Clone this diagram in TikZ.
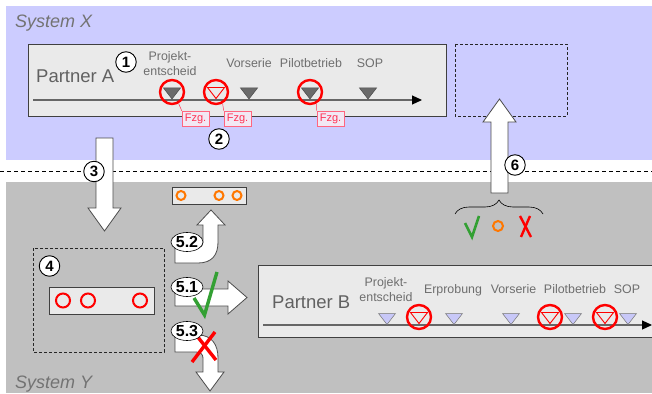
\documentclass[tikz,border=0pt]{standalone}
\usepackage{fontspec}
\setmainfont{Liberation Sans}
\usetikzlibrary{shapes.geometric,decorations.pathreplacing,arrows.meta}

\definecolor{sysx}{HTML}{CCCCFF}
\definecolor{sysy}{HTML}{C0C0C0}
\definecolor{boxfill}{HTML}{EAEAEA}
\definecolor{labelgray}{HTML}{6E6E6E}
\definecolor{markgray}{HTML}{6A6A6A}
\definecolor{markblue}{HTML}{C8C8F8}
\definecolor{fzgred}{HTML}{FF3355}
\definecolor{fzgfill}{HTML}{F2E8F4}
\definecolor{okgreen}{HTML}{33A033}
\definecolor{altorange}{HTML}{FF7700}

\tikzset{
  partner/.style={draw=black!75, fill=boxfill, line width=0.8pt},
  dashbox/.style={draw=black!85, line width=0.6pt, dash pattern=on 3pt off 2pt},
  num/.style={circle, draw=black, fill=white, line width=0.9pt, inner sep=0pt,
    minimum size=20.5pt, font=\fontsize{15}{15}\bfseries\selectfont},
  subnum/.style={ellipse, draw=black, fill=white, line width=0.6pt, inner sep=0pt,
    minimum width=32pt, minimum height=19pt, font=\fontsize{16}{16}\bfseries\selectfont},
  ms/.style={font=\fontsize{12.4}{15.5}\selectfont, text=labelgray, inner sep=0pt},
  fzg/.style={draw=fzgred!75, fill=fzgfill, line width=0.6pt, text=fzgred,
    font=\fontsize{11}{11}\selectfont, inner sep=0pt, minimum width=27pt, minimum height=15pt},
  ring/.style={circle, draw=red, line width=2.4pt, minimum size=24pt, inner sep=0pt},
  dot/.style={circle, line width=2pt, inner sep=0pt},
  blockarrow/.style={draw=black!70, fill=white, line width=0.8pt, line join=miter},
  timeline/.style={draw=black!60, line width=1.2pt,
    -{Triangle[length=10pt, width=9pt, color=black, fill=black]}},
  sysname/.style={font=\fontsize{18}{18}\itshape\selectfont, text=black!55,
    anchor=base west, inner sep=0pt},
  pname/.style={font=\fontsize{18.5}{18.5}\selectfont, text=black!62,
    anchor=base west, inner sep=0pt},
  mstone/.pic={\path[pic actions] (-8.5,-5.5) -- (8.5,-5.5) -- (0,5.5) -- cycle;},
  darkmark/.style={fill=markgray, draw=black!70, line width=0.5pt},
  bluemark/.style={fill=markblue, draw=black!55, line width=0.5pt},
  redmark/.style={fill=boxfill, draw=red, line width=0.9pt},
}

\begin{document}
\begin{tikzpicture}[x=1pt, y=-1pt]
\useasboundingbox (0,0) rectangle (652,393);
\fill[white] (0,0) rectangle (652,393);

% the two system areas and the border between them
\fill[sysx] (6,6) rectangle (652,160);
\fill[sysy] (6,182) rectangle (652,393);
\coordinate (sepL) at (0,171);
\coordinate (sepR) at (652,171);
\draw[black, line width=0.6pt, dash pattern=on 4pt off 3pt] (sepL) -- (sepR);

\node[sysname] (sysX) at (15,28) {System X};
\node[sysname] (sysY) at (15,388.5) {System Y};

% ---------------- Partner A ----------------
\draw[partner] (28,44) rectangle (446,116);
\node[pname] (pA) at (36,83) {Partner A};
\coordinate (ta0) at (33,100);
\coordinate (ta1) at (422,100);
\draw[timeline] (ta0) -- (ta1);

\node[ms, anchor=south, align=center] (la1) at (170,76) {Projekt-\\entscheid};
\node[ms, anchor=base] (la2) at (249,68) {Vorserie};
\node[ms, anchor=base] (la3) at (311,68) {Pilotbetrieb};
\node[ms, anchor=base] (la4) at (370,68) {SOP};

\pic[darkmark] at (172,93.5) {mstone};
\pic[redmark, fill=none] at (216,93) {mstone};
\pic[darkmark] at (249,93.5) {mstone};
\pic[darkmark] at (310,93.5) {mstone};
\pic[darkmark] at (368,93.5) {mstone};

\node[ring] (ra1) at (172,92) {};
\node[ring] (ra2) at (216,92) {};
\node[ring] (ra3) at (310,92) {};

\node[fzg] (fa1) at (195.5,118.5) {Fzg.};
\node[fzg] (fa2) at (237.5,118.5) {Fzg.};
\node[fzg] (fa3) at (330.5,118.5) {Fzg.};
\draw[fzgred, line width=0.5pt] (ra1.-60) -- (fa1.north west);
\draw[fzgred, line width=0.5pt] (ra2.-60) -- (fa2.north west);
\draw[fzgred, line width=0.5pt] (ra3.-60) -- (fa3.north west);

\node[num] (n1) at (126,62) {1};
\node[num] (n2) at (219,139) {2};

% target slot in system X
\draw[dashbox] (455,44) rectangle (567,116);

% ---------------- transfer arrows ----------------
\draw[blockarrow] (96,138) -- (113,138) -- (113,208) -- (121,208) -- (104.5,231)
  -- (88,208) -- (96,208) -- cycle;
\node[num] (n3) at (94,171.5) {3};

\draw[blockarrow] (491,193) -- (508,193) -- (508,122) -- (516,122) -- (499.5,99)
  -- (483,122) -- (491,122) -- cycle;
\node[num] (n6) at (515,165) {6};

% feedback summary below arrow 6
\coordinate (brL) at (455,214);
\coordinate (brR) at (543,214);
\draw[black, line width=0.6pt, decorate, decoration={brace, amplitude=14pt}] (brL) -- (brR);
\draw[okgreen, line width=2.6pt] (465,223) -- (472,237) -- (479,216);
\node[dot, draw=altorange, minimum size=10pt] (fbo) at (498,226) {};
\draw[red, line width=2.4pt] (520,216) -- (531,237);
\draw[red, line width=2.4pt] (530,216) -- (521,237);

% ---------------- system Y: evaluation ----------------
\draw[dashbox] (33,248) rectangle (164,352);
\node[num] (n4) at (49.5,266) {4};
\draw[partner] (49,287) rectangle (154,314);
\node[dot, draw=red, minimum size=14pt] (c41) at (63,300.5) {};
\node[dot, draw=red, minimum size=14pt] (c42) at (88,300.5) {};
\node[dot, draw=red, minimum size=14pt] (c43) at (140,300.5) {};

\draw[partner] (172,187) rectangle (246,204);
\node[dot, draw=altorange, minimum size=9pt] (c51) at (181,195.5) {};
\node[dot, draw=altorange, minimum size=9pt] (c52) at (219,195.5) {};
\node[dot, draw=altorange, minimum size=9pt] (c53) at (237,195.5) {};

% bent arrow 5.2 (up), straight arrow 5.1 (right), bent arrow 5.3 (down)
\draw[blockarrow] (175,263) -- (198,263) .. controls (212,263) and (218,255) .. (218,242)
  -- (218,225) -- (225,225) -- (211,210) -- (197,225) -- (203,225) -- (203,242)
  .. controls (203,246) and (200,248) .. (196,248) -- (175,248) -- cycle;
\draw[blockarrow] (175,289) -- (228,289) -- (228,281) -- (247,297.5) -- (228,314)
  -- (228,306) -- (175,306) -- cycle;
\draw[blockarrow] (175,335) -- (198,335) .. controls (212,335) and (218,345) .. (218,358)
  -- (218,372) -- (224,372) -- (210,391) -- (196,372) -- (203,372) -- (203,358)
  .. controls (203,354) and (200,352) .. (196,352) -- (175,352) -- cycle;

\draw[okgreen, line width=3.4pt] (194,298) -- (204.5,315) -- (217,272);
\draw[red, line width=3.4pt] (192,362) -- (215,332);
\draw[red, line width=3.4pt] (197,336) -- (216,360);

\node[subnum] (n52) at (187,242) {5.2};
\node[subnum] (n51) at (187,287) {5.1};
\node[subnum] (n53) at (187,331) {5.3};

% ---------------- Partner B ----------------
\draw[partner] (258,265) rectangle (660,337);
\node[pname] (pB) at (272,308) {Partner B};
\coordinate (tb0) at (263,325);
\coordinate (tb1) at (652,325);
\draw[timeline] (tb0) -- (tb1);

\node[ms, anchor=south, align=center] (lb1) at (386,302) {Projekt-\\entscheid};
\node[ms, anchor=base] (lb2) at (453,293) {Erprobung};
\node[ms, anchor=base] (lb3) at (513.5,293) {Vorserie};
\node[ms, anchor=base] (lb4) at (575,293) {Pilotbetrieb};
\node[ms, anchor=base] (lb5) at (627,293) {SOP};

\pic[bluemark] at (387,319) {mstone};
\pic[bluemark] at (454,319) {mstone};
\pic[bluemark] at (511,319) {mstone};
\pic[bluemark] at (573,319) {mstone};
\pic[bluemark] at (628,319) {mstone};
\pic[redmark] at (419,318) {mstone};
\pic[redmark] at (550,318) {mstone};
\pic[redmark] at (605,318) {mstone};

\node[ring] (rb1) at (419,317) {};
\node[ring] (rb2) at (550,317) {};
\node[ring] (rb3) at (605,317) {};
\end{tikzpicture}
\end{document}
